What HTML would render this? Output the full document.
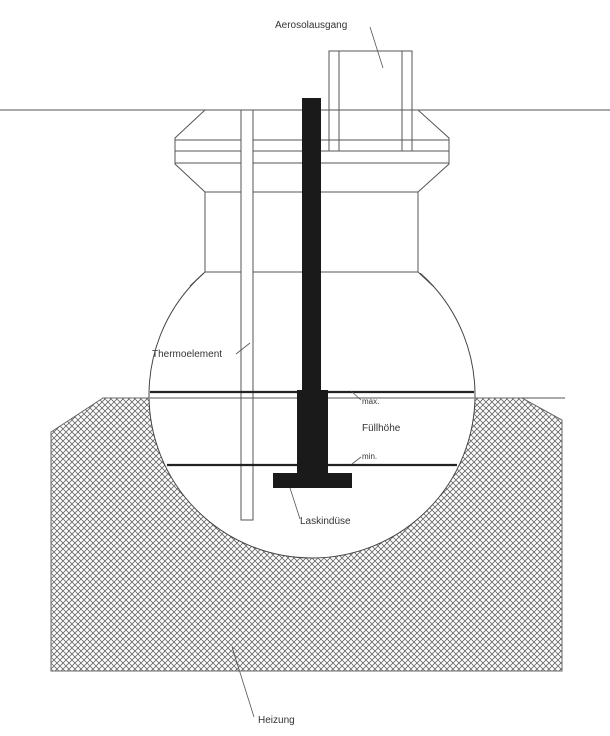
<!DOCTYPE html>
<html><head><meta charset="utf-8"><style>
html,body{margin:0;padding:0;background:#fff;}
svg{display:block;}
text{font-family:"Liberation Sans",sans-serif;font-size:10px;fill:#333;}
</style></head><body>
<svg width="610" height="736" viewBox="0 0 610 736" xmlns="http://www.w3.org/2000/svg">
<defs>
<pattern id="h" width="6" height="6" patternUnits="userSpaceOnUse">
<path d="M0,0 L6,6 M6,0 L0,6 M-1,5 L1,7 M5,-1 L7,1 M-1,1 L1,-1 M5,7 L7,5" stroke="#666" stroke-width="0.8"/>
</pattern>
<mask id="m"><rect width="610" height="736" fill="#fff"/><circle cx="312" cy="395" r="163" fill="#000"/></mask>
<mask id="s"><rect width="610" height="736" fill="#fff"/><rect x="150" y="200" width="320" height="73" fill="#000"/></mask>
</defs>
<g stroke="#555" stroke-width="1" fill="none">
<path d="M51,432 L103,398 L522,398 L562,420 L562,671 L51,671 Z" fill="url(#h)" stroke="#666" mask="url(#m)"/>
<line x1="522" y1="398" x2="565" y2="398"/>
<line x1="0" y1="110" x2="610" y2="110"/>
<rect x="329" y="51" width="83" height="100"/>
<line x1="339" y1="51" x2="339" y2="151"/>
<line x1="402" y1="51" x2="402" y2="151"/>
<path d="M205,110 L418,110 L449,138 L449,164 L418,192 L205,192 L175,164 L175,138 Z"/>
<line x1="175" y1="140" x2="449" y2="140"/>
<line x1="175" y1="151" x2="449" y2="151"/>
<line x1="175" y1="163" x2="449" y2="163"/>
<rect x="205" y="192" width="213" height="80"/>
<line x1="205" y1="272" x2="190" y2="286"/>
<line x1="418" y1="272" x2="433" y2="286"/>
<circle cx="312" cy="395" r="163" fill="none" stroke="#444" mask="url(#s)"/>
<rect x="241" y="110" width="12" height="410" fill="#fff"/>
<line x1="150" y1="398" x2="474" y2="398"/>
</g>
<line x1="150" y1="392" x2="474" y2="392" stroke="#222" stroke-width="2.2"/>
<line x1="167" y1="465" x2="457" y2="465" stroke="#222" stroke-width="2.2"/>
<rect x="302" y="98" width="19" height="294" fill="#1a1a1a"/>
<rect x="297" y="390" width="31" height="84" fill="#1a1a1a"/>
<rect x="273" y="473" width="79" height="15" fill="#1a1a1a"/>
<g stroke="#555" stroke-width="0.8" fill="none">
<line x1="370" y1="27" x2="383" y2="68"/>
<line x1="236" y1="354" x2="250" y2="343"/>
<line x1="351" y1="391" x2="361" y2="400"/>
<line x1="352" y1="464" x2="361" y2="457"/>
<line x1="290" y1="488" x2="300" y2="519"/>
<line x1="232" y1="647" x2="254" y2="717"/>
</g>
<text x="275" y="28">Aerosolausgang</text>
<text x="152" y="357">Thermoelement</text>
<text x="362" y="404" style="font-size:8px">max.</text>
<text x="362" y="431">Füllhöhe</text>
<text x="362" y="459" style="font-size:8px">min.</text>
<text x="300" y="524">Laskindüse</text>
<text x="258" y="723">Heizung</text>
</svg>
</body></html>
